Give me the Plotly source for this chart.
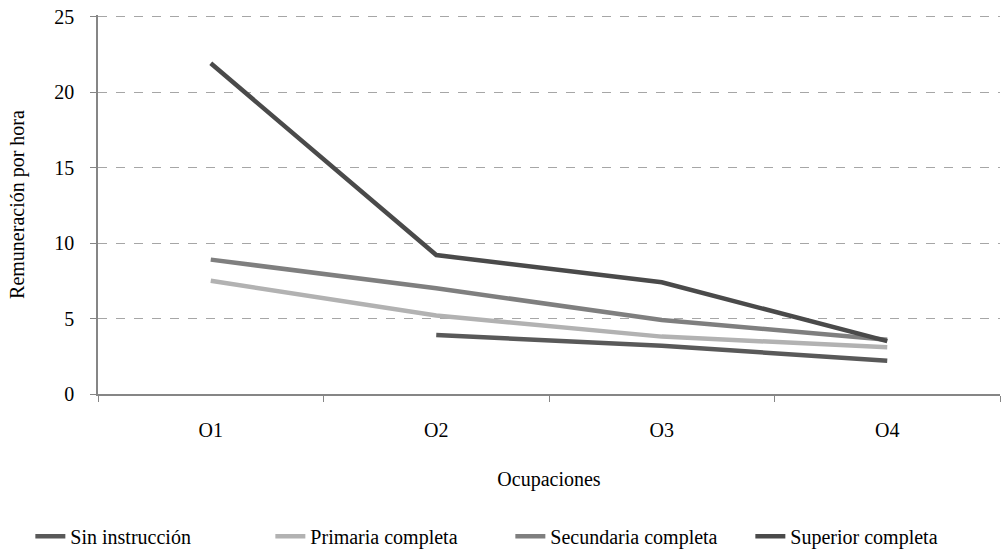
import plotly.graph_objects as go

categories = ["O1", "O2", "O3", "O4"]
sin_instruccion = [None, 3.9, 3.2, 2.2]
primaria = [7.5, 5.2, 3.8, 3.1]
secundaria = [8.9, 7.0, 4.9, 3.6]
superior = [21.9, 9.2, 7.4, 3.5]

series = [
    ("Sin instrucción", sin_instruccion, "#595959"),
    ("Primaria completa", primaria, "#B2B2B2"),
    ("Secundaria completa", secundaria, "#7F7F7F"),
    ("Superior completa", superior, "#4A4A4A"),
]

fig = go.Figure()
for name, vals, col in series:
    fig.add_trace(go.Scatter(x=categories, y=vals, name=name, mode="lines",
                             line=dict(color=col, width=4.5), connectgaps=False))

font = "Times New Roman"
fig.update_layout(
    width=1004, height=559,
    margin=dict(l=98, r=4, t=15, b=164),
    paper_bgcolor="white", plot_bgcolor="white",
    font=dict(family=font, size=20, color="black"),
    showlegend=True,
    legend=dict(orientation="h", x=-0.075, xanchor="left", y=-0.372, yanchor="middle",
                font=dict(family=font, size=20), itemwidth=30, traceorder="normal",
                entrywidth=195, entrywidthmode="pixels"),
    xaxis=dict(type="category", range=[-0.5, 3.5], showgrid=False, automargin=False,
               showline=True, linecolor="#868686", linewidth=1.5,
               ticks="outside", tickson="boundaries", ticklen=6, tickcolor="#868686",
               ticklabelstandoff=17,
               title=dict(text="Ocupaciones", font=dict(family=font, size=20), standoff=32),
               tickfont=dict(family=font, size=20)),
    yaxis=dict(range=[0, 25.1], tickvals=[0, 5, 10, 15, 20, 25], showgrid=True, gridcolor="#A6A6A6",
               griddash="dash", gridwidth=1.2, zeroline=False, automargin=False,
               showline=True, linecolor="#868686", linewidth=1.5,
               ticks="outside", ticklen=6, tickcolor="#868686",
               ticklabelstandoff=12, ticklabeloverflow="allow",
               title=dict(text="Remuneración por hora", font=dict(family=font, size=20), standoff=24),
               tickfont=dict(family=font, size=20)),
)
fig.write_html("out.html", config={"displayModeBar": False},
               post_script="document.body.style.margin='0px';")
